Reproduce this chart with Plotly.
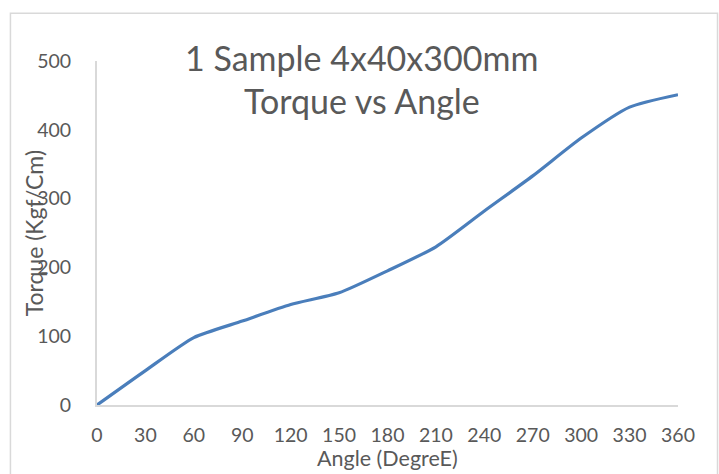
import plotly.graph_objects as go

angle = [0, 30, 60, 90, 120, 150, 180, 210, 240, 270, 300, 330, 360]
torque = [0, 50, 98, 122, 146, 163, 195, 230, 282, 333, 388, 433, 451]
x_ticks = [0, 30, 60, 90, 120, 150, 180, 210, 240, 270, 300, 330, 360]
y_ticks = [0, 100, 200, 300, 400, 500]
title_lines = ["1 Sample 4x40x300mm", "Torque vs Angle"]
x_title = "Angle (DegreE)"
y_title = "Torque (Kgf/Cm)"

FONT = "Lato"
GREY = "#595959"
AXIS = "#d9d9d9"

fig = go.Figure()
fig.add_trace(go.Scatter(
    x=angle, y=torque, mode="lines",
    line=dict(color="#4a7ebb", width=3.2, shape="spline", smoothing=0.6),
    showlegend=False, hoverinfo="x+y",
))

fig.update_layout(
    width=719, height=474,
    margin=dict(l=97, r=41, t=61, b=69),
    paper_bgcolor="white", plot_bgcolor="white",
    font=dict(family=FONT, color=GREY, size=16),
    xaxis=dict(
        range=[0, 360], tickvals=x_ticks, ticktext=[str(v) for v in x_ticks],
        showgrid=False, zeroline=False, showline=True, linecolor=AXIS, linewidth=2,
        ticks="", ticklabelstandoff=12, tickfont=dict(family=FONT, size=19.5, color=GREY),
        fixedrange=True,
    ),
    yaxis=dict(
        range=[0, 500], tickvals=y_ticks, ticktext=[str(v) for v in y_ticks],
        showgrid=False, zeroline=False, showline=True, linecolor=AXIS, linewidth=2,
        ticks="", ticklabelstandoff=20, tickfont=dict(family=FONT, size=19.5, color=GREY),
        fixedrange=True,
    ),
    shapes=[dict(
        type="rect", xref="paper", yref="paper",
        x0=-0.149, x1=1.068, y0=-0.4, y1=1.139,
        line=dict(color=AXIS, width=1.5), fillcolor="rgba(0,0,0,0)", layer="below",
    )],
    annotations=[
        dict(text=title_lines[0], xref="paper", yref="paper", x=0.456, y=1.0116,
             showarrow=False, xanchor="center", yanchor="middle",
             font=dict(family=FONT, size=34, color=GREY)),
        dict(text=title_lines[1], xref="paper", yref="paper", x=0.456, y=0.8866,
             showarrow=False, xanchor="center", yanchor="middle",
             font=dict(family=FONT, size=34, color=GREY)),
        dict(text=x_title, xref="paper", yref="paper", x=0.5, y=-0.198,
             showarrow=False, xanchor="center", yanchor="bottom",
             font=dict(family=FONT, size=21.5, color=GREY)),
        dict(text=y_title, xref="paper", yref="paper", x=-0.108, y=0.5,
             showarrow=False, xanchor="center", yanchor="middle", textangle=-90,
             font=dict(family=FONT, size=23, color=GREY)),
    ],
)

fig.write_html("out.html")
